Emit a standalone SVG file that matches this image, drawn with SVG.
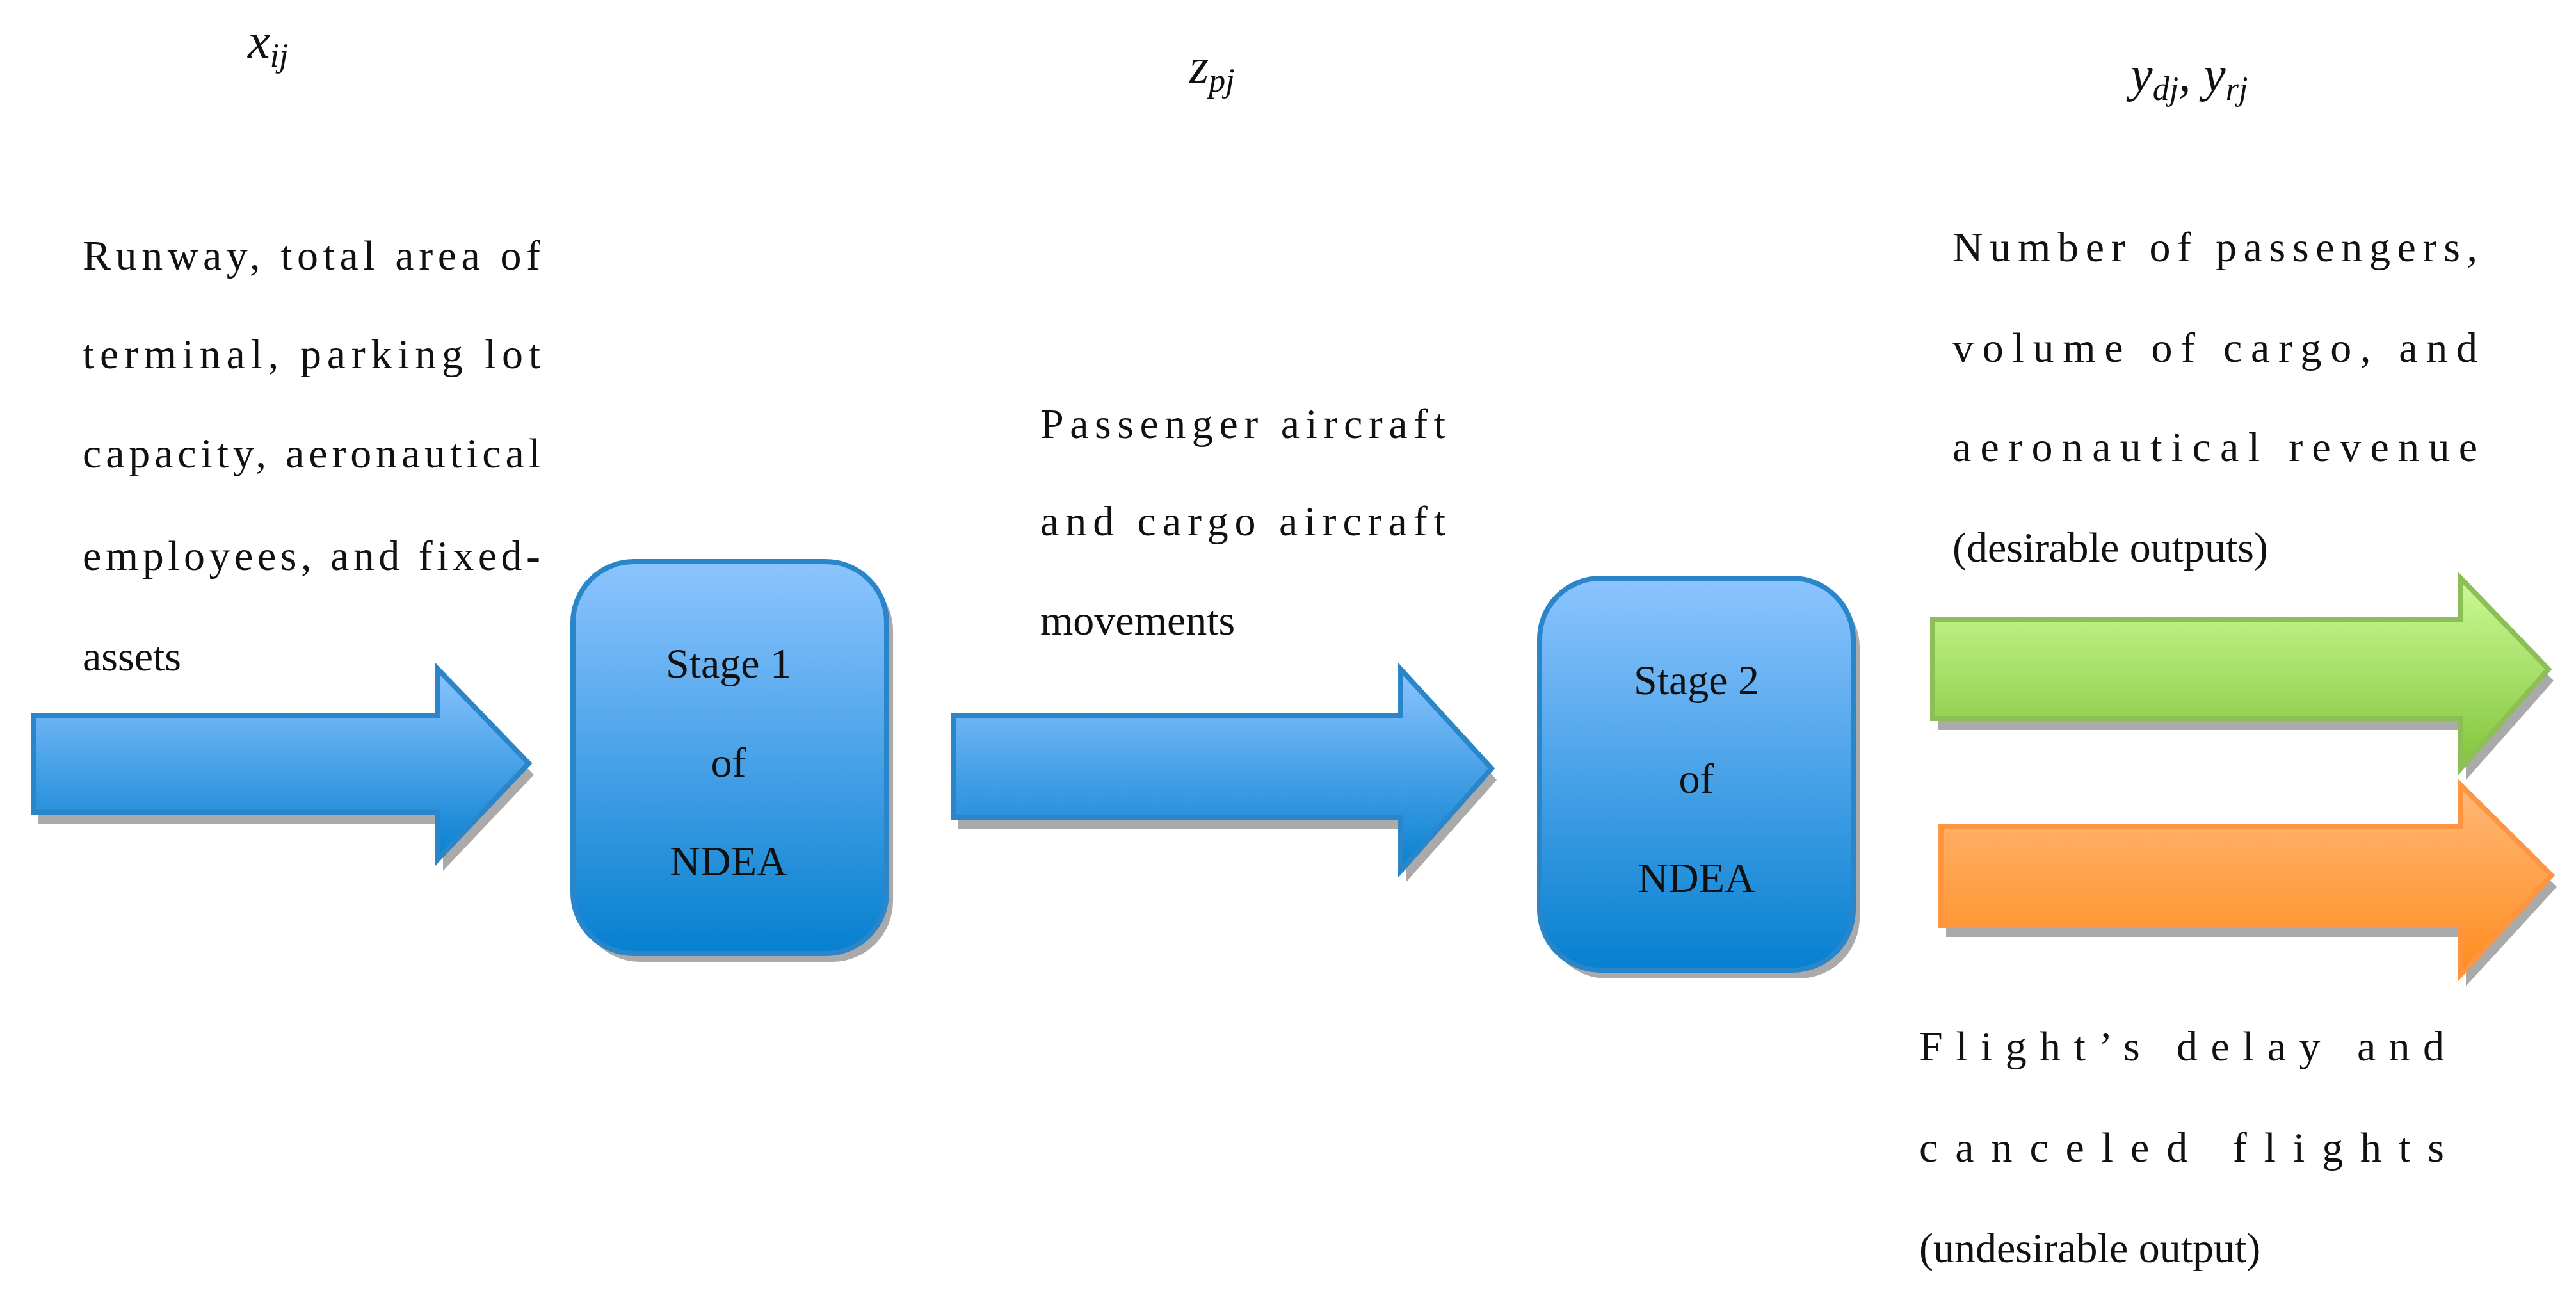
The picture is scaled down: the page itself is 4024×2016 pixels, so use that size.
<svg xmlns="http://www.w3.org/2000/svg" width="4024" height="2016" viewBox="0 0 4024 2016">
<defs>
<linearGradient id="gb" x1="0" y1="0" x2="0" y2="1"><stop offset="0" stop-color="#8cc4ff"/><stop offset="1" stop-color="#0680d0"/></linearGradient>
<linearGradient id="gg" x1="0" y1="0" x2="0" y2="1"><stop offset="0" stop-color="#ccfa96"/><stop offset="1" stop-color="#82c43a"/></linearGradient>
<linearGradient id="go" x1="0" y1="0" x2="0" y2="1"><stop offset="0" stop-color="#ffb877"/><stop offset="1" stop-color="#ff8c1e"/></linearGradient>
<style>
.t{font-family:"Liberation Serif",serif;font-size:66px;fill:#111}
.m{font-family:"Liberation Serif",serif;font-size:78px;font-style:italic;fill:#111}
.c{font-family:"Liberation Serif",serif;font-size:66px;fill:#111;text-anchor:middle}
.sh{fill:#aaa}
.b{stroke:#2a86c8;stroke-width:8}
</style>
</defs>
<g id="connectors">
<path class="sh" d="M60 1135H692V1063L834 1210L692 1360V1287H60Z"/>
<path id="a1" class="b" fill="url(#gb)" d="M52 1117H684V1045L826 1192L684 1342V1269H52Z"/>
<path class="sh" d="M1497 1135H2196V1063L2338 1218L2196 1378V1295H1497Z"/>
<path id="a2" class="b" fill="url(#gb)" d="M1489 1117H2188V1045L2330 1200L2188 1360V1277H1489Z"/>
<path class="sh" d="M3027 986H3852V921L3989 1063L3852 1218V1140H3027Z"/>
<path id="a3" stroke="#8cbf55" stroke-width="8" fill="url(#gg)" d="M3019 968H3844V903L3981 1045L3844 1200V1122H3019Z"/>
<path class="sh" d="M3040 1308H3852V1244L3994 1385L3852 1540V1463H3040Z"/>
<path id="a4" stroke="#ff9540" stroke-width="8" fill="url(#go)" d="M3032 1290H3844V1226L3986 1367L3844 1522V1445H3032Z"/>
</g>
<g id="stage1">
<rect x="905" y="890" width="490" height="612" rx="95" class="sh"/>
<rect x="895" y="877" width="490" height="612" rx="95" class="b" fill="url(#gb)"/>
<text class="c" x="1138" y="1058">Stage 1</text>
<text class="c" x="1138" y="1213">of</text>
<text class="c" x="1138" y="1367">NDEA</text>
</g>
<g id="stage2">
<rect x="2415" y="916" width="490" height="612" rx="95" class="sh"/>
<rect x="2405" y="903" width="490" height="612" rx="95" class="b" fill="url(#gb)"/>
<text class="c" x="2650" y="1084">Stage 2</text>
<text class="c" x="2650" y="1238">of</text>
<text class="c" x="2650" y="1393">NDEA</text>
</g>
<g id="labels">
<text class="m" x="387" y="90">x<tspan font-size="52" dy="14">ij</tspan></text>
<text class="m" x="1858" y="129">z<tspan font-size="52" dy="14">pj</tspan></text>
<text class="m" x="3328" y="142">y<tspan font-size="52" dy="14">dj</tspan><tspan dy="-14">, y</tspan><tspan font-size="52" dy="14">rj</tspan></text>
<text class="t" x="129" y="421" textLength="715" lengthAdjust="spacing">Runway, total area of</text>
<text class="t" x="129" y="575" textLength="715" lengthAdjust="spacing">terminal, parking lot</text>
<text class="t" x="129" y="730" textLength="715" lengthAdjust="spacing">capacity, aeronautical</text>
<text class="t" x="129" y="890" textLength="715" lengthAdjust="spacing">employees, and fixed-</text>
<text class="t" x="129" y="1047">assets</text>
<text class="t" x="1625" y="684" textLength="633" lengthAdjust="spacing">Passenger aircraft</text>
<text class="t" x="1625" y="836" textLength="633" lengthAdjust="spacing">and cargo aircraft</text>
<text class="t" x="1625" y="991">movements</text>
<text class="t" x="3050" y="408" textLength="820" lengthAdjust="spacing">Number of passengers,</text>
<text class="t" x="3050" y="565" textLength="820" lengthAdjust="spacing">volume of cargo, and</text>
<text class="t" x="3050" y="720" textLength="820" lengthAdjust="spacing">aeronautical revenue</text>
<text class="t" x="3050" y="877">(desirable outputs)</text>
<text class="t" x="2998" y="1656" textLength="820" lengthAdjust="spacing">Flight’s delay and</text>
<text class="t" x="2998" y="1814" textLength="820" lengthAdjust="spacing">canceled flights</text>
<text class="t" x="2998" y="1971">(undesirable output)</text>
</g>
</svg>
